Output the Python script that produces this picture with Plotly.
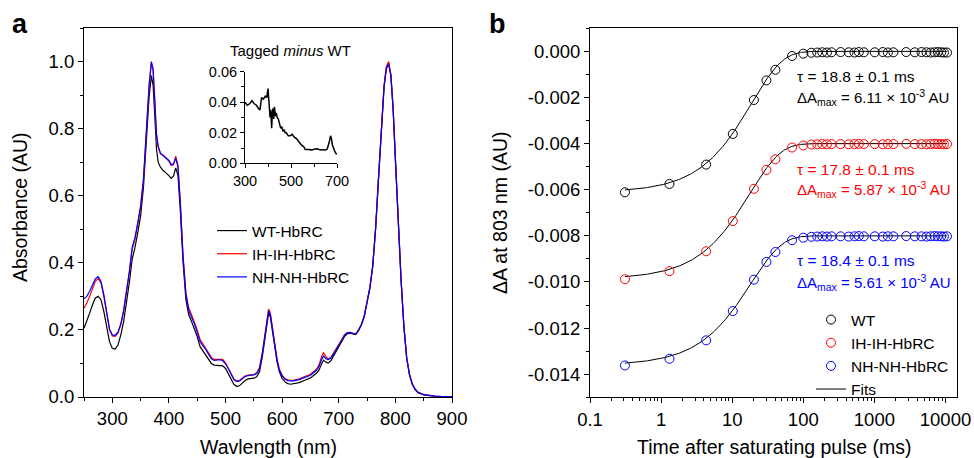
import numpy as np
import plotly.graph_objects as go

# ---------------- Panel a data ----------------
wavelength = [250, 255, 260, 265, 270, 275, 280, 285, 290, 295, 300, 305, 310, 315, 320, 325, 330, 335, 340, 345,
              350, 355, 360, 365, 369, 372, 375, 378, 381, 385, 390, 395, 400, 404, 408, 412, 416, 420, 425, 430,
              435, 440, 445, 450, 455, 460, 465, 470, 475, 480, 485, 490, 495, 500, 505, 510, 515, 520, 525, 530,
              535, 540, 545, 550, 555, 560, 565, 570, 573, 576, 579, 583, 587, 591, 595, 600, 605, 610, 615, 620,
              630, 640, 650, 660, 665, 670, 673, 677, 681, 686, 692, 700, 705, 710, 715, 720, 725, 730, 735, 740,
              745, 750, 755, 760, 765, 770, 775, 780, 784, 788, 792, 796, 800, 805, 810, 815, 820, 825, 830, 835,
              840, 850, 860, 870, 880, 890, 900]

abs_wt = [0.205, 0.225, 0.25, 0.275, 0.295, 0.300, 0.290, 0.255, 0.205, 0.165, 0.145, 0.143, 0.155, 0.185, 0.225, 0.28, 0.34, 0.41, 0.445, 0.49,
          0.54, 0.625, 0.77, 0.895, 0.958, 0.93, 0.84, 0.74, 0.70, 0.685, 0.675, 0.668, 0.66, 0.652, 0.658, 0.683, 0.66, 0.56, 0.40, 0.29,
          0.245, 0.225, 0.205, 0.18, 0.15, 0.138, 0.127, 0.113, 0.10, 0.095, 0.094, 0.094, 0.093, 0.085, 0.07, 0.052, 0.037, 0.031, 0.034, 0.042,
          0.05, 0.054, 0.055, 0.056, 0.06, 0.075, 0.12, 0.18, 0.225, 0.25, 0.24, 0.195, 0.145, 0.105, 0.075, 0.055, 0.045, 0.04, 0.038, 0.039,
          0.043, 0.05, 0.057, 0.07, 0.08, 0.1, 0.11, 0.104, 0.101, 0.108, 0.125, 0.15, 0.165, 0.18, 0.188, 0.19, 0.188, 0.186, 0.198, 0.215,
          0.24, 0.285, 0.325, 0.39, 0.50, 0.645, 0.79, 0.925, 0.98, 0.995, 0.96, 0.86, 0.71, 0.52, 0.35, 0.21, 0.115, 0.065, 0.037, 0.022,
          0.013, 0.006, 0.003, 0.002, 0.0015, 0.001, 0.001]

abs_ih = [0.265, 0.28, 0.30, 0.325, 0.345, 0.353, 0.340, 0.300, 0.245, 0.200, 0.182, 0.181, 0.190, 0.215, 0.255, 0.31, 0.37, 0.44, 0.47, 0.515,
          0.565, 0.645, 0.80, 0.925, 0.995, 0.975, 0.88, 0.78, 0.745, 0.725, 0.72, 0.712, 0.703, 0.69, 0.692, 0.718, 0.69, 0.585, 0.42, 0.31,
          0.265, 0.245, 0.225, 0.2, 0.172, 0.158, 0.148, 0.132, 0.118, 0.112, 0.112, 0.113, 0.112, 0.102, 0.087, 0.068, 0.053, 0.048, 0.05, 0.057,
          0.063, 0.065, 0.066, 0.067, 0.072, 0.087, 0.132, 0.195, 0.24, 0.262, 0.252, 0.207, 0.155, 0.113, 0.083, 0.065, 0.055, 0.051, 0.05, 0.05,
          0.054, 0.061, 0.068, 0.082, 0.095, 0.122, 0.132, 0.122, 0.113, 0.118, 0.133, 0.156, 0.17, 0.185, 0.192, 0.193, 0.19, 0.188, 0.2, 0.217,
          0.242, 0.287, 0.327, 0.392, 0.502, 0.648, 0.795, 0.93, 0.985, 1.0, 0.963, 0.862, 0.712, 0.522, 0.352, 0.212, 0.117, 0.067, 0.039, 0.023,
          0.014, 0.007, 0.004, 0.003, 0.002, 0.0015, 0.001]

abs_nh = [0.293, 0.30, 0.315, 0.335, 0.352, 0.359, 0.345, 0.305, 0.250, 0.203, 0.185, 0.184, 0.193, 0.218, 0.258, 0.313, 0.373, 0.445, 0.475, 0.52,
          0.57, 0.65, 0.805, 0.93, 1.0, 0.978, 0.885, 0.785, 0.748, 0.727, 0.72, 0.713, 0.705, 0.693, 0.695, 0.712, 0.685, 0.58, 0.415, 0.305,
          0.258, 0.238, 0.218, 0.192, 0.165, 0.152, 0.142, 0.127, 0.114, 0.109, 0.11, 0.111, 0.108, 0.099, 0.084, 0.066, 0.051, 0.046, 0.048, 0.055,
          0.061, 0.064, 0.065, 0.066, 0.07, 0.085, 0.13, 0.19, 0.235, 0.256, 0.247, 0.203, 0.152, 0.11, 0.081, 0.062, 0.053, 0.049, 0.048, 0.048,
          0.052, 0.058, 0.065, 0.078, 0.09, 0.113, 0.122, 0.115, 0.111, 0.116, 0.131, 0.155, 0.17, 0.184, 0.191, 0.192, 0.19, 0.188, 0.2, 0.216,
          0.241, 0.286, 0.326, 0.391, 0.50, 0.645, 0.79, 0.924, 0.978, 0.993, 0.958, 0.858, 0.708, 0.518, 0.349, 0.21, 0.116, 0.066, 0.038, 0.023,
          0.014, 0.007, 0.004, 0.003, 0.002, 0.0015, 0.001]

inset_nm = [300, 310, 320, 330, 340, 350, 358, 365, 372, 380, 388, 395, 400, 403, 406, 409, 412, 416, 419, 422,
            425, 428, 432, 436, 440, 445, 450, 455, 460, 465, 470, 475, 480, 488, 496, 505, 515, 525, 535, 545,
            555, 562, 575, 590, 605, 615, 625, 640, 650, 658, 664, 668, 672, 676, 680, 685, 690, 695, 700]
inset_diff = [0.040, 0.038, 0.039, 0.041, 0.039, 0.038, 0.036, 0.035, 0.043, 0.042, 0.044, 0.043, 0.049, 0.041, 0.036, 0.030, 0.035, 0.023, 0.033, 0.036,
              0.029, 0.037, 0.031, 0.033, 0.030, 0.029, 0.026, 0.023, 0.024, 0.021, 0.022, 0.020, 0.020, 0.018, 0.018, 0.019, 0.017, 0.016, 0.014, 0.012,
              0.011, 0.009, 0.009, 0.0088, 0.0093, 0.0095, 0.0088, 0.009, 0.0087, 0.0095, 0.012, 0.015, 0.018, 0.016, 0.012, 0.0095, 0.008, 0.0065, 0.006]

spectra_names = ["WT-HbRC", "IH-IH-HbRC", "NH-NH-HbRC"]

# ---------------- Panel b data ----------------
time_ms = [0.31, 1.31, 4.3, 10.2, 20.2, 30.3, 40.5, 69.5,
           100, 130, 157, 185, 215, 250, 335, 435, 525, 605, 710, 1010, 1310, 1545, 1850,
           2800, 3700, 4600, 5400, 6200, 7000, 7800, 8700, 9500, 10500]

dA_wt = [-0.00611, -0.00575, -0.00491, -0.00358, -0.00211, -0.00126, -0.00080, -0.00020,
         -0.00010, -0.00006, -0.00005, -0.00004, -0.00005, -0.00004, -0.00003, -0.00004, -0.00005, -0.00003, -0.00004, -0.00004, -0.00003, -0.00005, -0.00004,
         -0.00003, -0.00004, -0.00003, -0.00004, -0.00005, -0.00004, -0.00003, -0.00004, -0.00005, -0.00005]
dA_ih = [-0.00988, -0.00953, -0.00867, -0.00736, -0.00596, -0.00514, -0.00468, -0.00417,
         -0.00408, -0.00404, -0.00403, -0.00402, -0.00403, -0.00402, -0.00402, -0.00403, -0.00402, -0.00401, -0.00402, -0.00402, -0.00403, -0.00402, -0.00402,
         -0.00401, -0.00402, -0.00402, -0.00403, -0.00402, -0.00401, -0.00402, -0.00402, -0.00403, -0.00402]
dA_nh = [-0.01362, -0.01333, -0.01253, -0.01126, -0.00990, -0.00913, -0.00870, -0.00819,
         -0.00808, -0.00804, -0.00803, -0.00802, -0.00803, -0.00802, -0.00802, -0.00803, -0.00802, -0.00801, -0.00802, -0.00802, -0.00803, -0.00802, -0.00802,
         -0.00801, -0.00802, -0.00802, -0.00803, -0.00802, -0.00801, -0.00802, -0.00802, -0.00803, -0.00802]

kin_names = ["WT", "IH-IH-HbRC", "NH-NH-HbRC"]
fit_tau = [18.8, 17.8, 18.4]          # ms
fit_amax = [6.11e-3, 5.87e-3, 5.61e-3]  # AU
fit_offset = [0.0, -0.004, -0.008]

ytick_vals_b = [0.000, -0.002, -0.004, -0.006, -0.008, -0.010, -0.012, -0.014]
ytick_text_b = ["0.000", "-0.002", "-0.004", "-0.006", "-0.008", "-0.010", "-0.012", "-0.014"]
xtick_vals_b = [0.1, 1, 10, 100, 1000, 10000]
xtick_text_b = ["0.1", "1", "10", "100", "1000", "10000"]

colors = ["#000000", "#ff0000", "#0000ff"]
FONT = "Liberation Sans, Arial, sans-serif"

W, H = 974, 458
def px_x(p):
    return p / W
def px_y(p):
    return (H - p) / H

fig = go.Figure()

# Panel a spectra
for name, vals, c in zip(spectra_names, [abs_wt, abs_ih, abs_nh], colors):
    fig.add_trace(go.Scatter(x=wavelength, y=vals, mode="lines", name=name,
                             line=dict(color=c, width=1.2), xaxis="x", yaxis="y", legend="legend"))

# Inset
fig.add_trace(go.Scatter(x=inset_nm, y=inset_diff, mode="lines", showlegend=False,
                         line=dict(color="#000000", width=1.5), xaxis="x2", yaxis="y2"))

# Panel b fits
t_fit = np.logspace(np.log10(time_ms[0]), np.log10(time_ms[-1]), 300)
for i, (tau, amax, off) in enumerate(zip(fit_tau, fit_amax, fit_offset)):
    yfit = off - amax * np.exp(-t_fit / tau)
    fig.add_trace(go.Scatter(x=t_fit, y=yfit, mode="lines", name="Fits",
                             showlegend=(i == 0), legendrank=4, legend="legend2",
                             line=dict(color="#000000", width=1), xaxis="x3", yaxis="y3"))

# Panel b points
for k, (name, vals, c) in enumerate(zip(kin_names, [dA_wt, dA_ih, dA_nh], colors)):
    fig.add_trace(go.Scatter(x=time_ms, y=vals, mode="markers", name=name, legendrank=k + 1,
                             legend="legend2",
                             marker=dict(symbol="circle-open", size=9, color=c, line=dict(width=1, color=c)),
                             xaxis="x3", yaxis="y3"))

axis_common = dict(showline=True, linecolor="#000000", linewidth=1, showgrid=False, zeroline=False,
                   ticks="outside", ticklen=5, tickwidth=1, tickcolor="#000000", automargin=False,
                   tickfont=dict(family=FONT, size=18.5, color="#000000"))
inset_common = {**axis_common, "tickfont": dict(family=FONT, size=14.5, color="#000000"), "ticklen": 4}

minor_x_b = []
for d in [0.1, 1, 10, 100, 1000, 10000]:
    for m in range(2, 10):
        v = d * m
        if v <= 14000:
            minor_x_b.append(v)

fig.update_layout(
    width=W, height=H, margin=dict(l=0, r=0, t=0, b=0),
    paper_bgcolor="#ffffff", plot_bgcolor="rgba(0,0,0,0)",
    font=dict(family=FONT, color="#000000"),
    xaxis=dict(domain=[px_x(84), px_x(452)], range=[250, 900], anchor="y", mirror=True,
               tick0=300, dtick=100,
               minor=dict(ticks="outside", ticklen=3, tick0=250, dtick=50, tickcolor="#000000"),
               **axis_common),
    yaxis=dict(domain=[px_y(397), px_y(28)], range=[0, 1.1], anchor="x", mirror=True,
               tick0=0, dtick=0.2, tickformat=".1f",
               minor=dict(ticks="outside", ticklen=3, tick0=0, dtick=0.1, tickcolor="#000000"),
               **axis_common),
    xaxis2=dict(domain=[px_x(245), px_x(337)], range=[300, 700], anchor="y2",
                tick0=300, dtick=200,
                minor=dict(ticks="outside", ticklen=3, tick0=300, dtick=100, tickcolor="#000000"),
                **inset_common),
    yaxis2=dict(domain=[px_y(163.3), px_y(71.7)], range=[0, 0.06], anchor="x2",
                tick0=0, dtick=0.02, tickformat=".2f",
                minor=dict(ticks="outside", ticklen=3, tick0=0, dtick=0.01, tickcolor="#000000"),
                **inset_common),
    xaxis3=dict(domain=[px_x(590), px_x(957.3)], type="log", range=[-1, 4.166], anchor="y3", mirror=True,
                tickmode="array", tickvals=xtick_vals_b, ticktext=xtick_text_b,
                minor=dict(ticks="outside", ticklen=3, tickmode="array", tickvals=minor_x_b, tickcolor="#000000"),
                **axis_common),
    yaxis3=dict(domain=[px_y(397.3), px_y(28.3)], range=[-0.015, 0.001], anchor="x3", mirror=True,
                tickmode="array", tickvals=ytick_vals_b, ticktext=ytick_text_b,
                minor=dict(ticks="outside", ticklen=3, tickmode="linear", tick0=0, dtick=0.001, tickcolor="#000000"),
                **axis_common),
    legend=dict(x=px_x(212), y=px_y(214), xanchor="left", yanchor="top", bgcolor="rgba(0,0,0,0)",
                font=dict(family=FONT, size=15.5, color="#000000"), borderwidth=0, tracegroupgap=0),
    legend2=dict(x=px_x(811), y=px_y(303), xanchor="left", yanchor="top", bgcolor="rgba(0,0,0,0)",
                 font=dict(family=FONT, size=15.5, color="#000000"), borderwidth=0, tracegroupgap=0,
                 traceorder="normal"),
    showlegend=True,
)

ann = []
def add_text(text, x, y, size, color="#000000", xanchor="center", angle=0):
    ann.append(dict(text=text, x=px_x(x), y=px_y(y), xref="paper", yref="paper", showarrow=False,
                    font=dict(family=FONT, size=size, color=color), xanchor=xanchor, yanchor="middle",
                    textangle=angle))

add_text("<b>a</b>", 20, 24, 27)
add_text("<b>b</b>", 497, 24, 27)
add_text("Tagged <i>minus</i> WT", 290, 50, 15)
# axis titles
add_text("Wavlength (nm)", 268, 447, 19.5)
add_text("Absorbance (AU)", 20, 207, 19.5, angle=-90)
add_text("Time after saturating pulse (ms)", 774, 447, 19.5)
add_text("ΔA at 803 nm (AU)", 500, 212, 19.5, angle=-90)

tau_y = [76, 169, 260]
amax_y = [97, 190, 282]
for tau, amax, c, ty, ay in zip(fit_tau, fit_amax, colors, tau_y, amax_y):
    add_text(f"τ = {tau:.1f} ± 0.1 ms", 795, ty, 15.5, color=c, xanchor="left")
    add_text(f"ΔA<sub>max</sub> = {amax*1000:.2f} × 10<sup>-3</sup> AU", 795, ay, 15, color=c, xanchor="left")
fig.update_layout(annotations=ann)

fig.write_html("out.html", config={"displayModeBar": False},
               post_script="document.body.style.margin='0';document.body.style.padding='0';")
